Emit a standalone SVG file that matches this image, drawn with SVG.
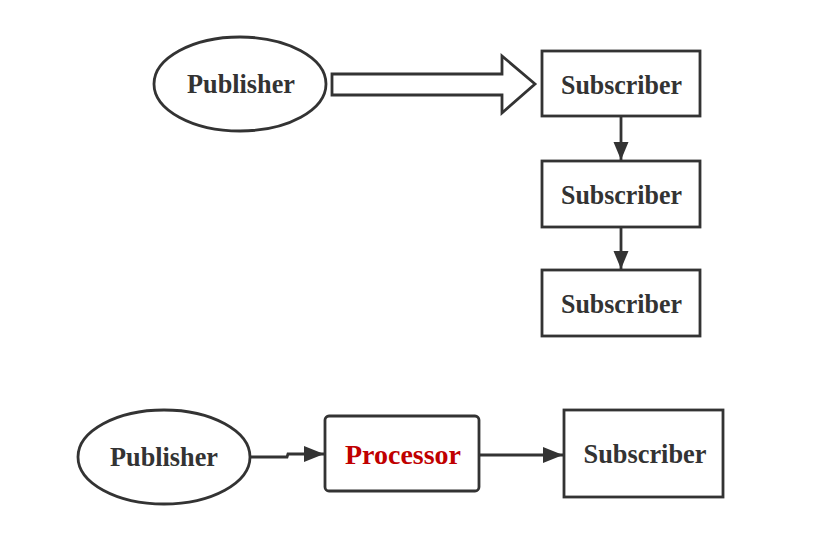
<svg xmlns="http://www.w3.org/2000/svg" width="823" height="545" viewBox="0 0 823 545">
<defs>
<style>
.shape{fill:#fff;stroke:#333;stroke-width:2.8}
.lbl{font-family:"Liberation Serif","Times New Roman",serif;font-weight:bold;font-size:28px;fill:#333;text-anchor:middle}
.red{fill:#c00000}
.conn{fill:none;stroke:#333;stroke-width:2.8}
</style>
<marker id="ah" markerUnits="userSpaceOnUse" markerWidth="24" markerHeight="18" refX="20" refY="8" orient="auto">
<path d="M0,0 L20,8 L0,16 Z" fill="#333"/>
</marker>
<marker id="ahv" markerUnits="userSpaceOnUse" markerWidth="20" markerHeight="16" refX="18" refY="7.5" orient="auto">
<path d="M0,0 L18,7.5 L0,15 Z" fill="#333"/>
</marker>
</defs>
<rect width="823" height="545" fill="#fff"/>
<g id="connectors">
<path class="shape" d="M332,74 L502,74 L502,56 L535,84 L502,113 L502,95 L332,95 Z"/>
<path class="conn" d="M621,116 L621,160" marker-end="url(#ahv)"/>
<path class="conn" d="M621,227 L621,269" marker-end="url(#ahv)"/>
<path class="conn" d="M250,457 L287,457 L288,454 L324,454" marker-end="url(#ah)"/>
<path class="conn" d="M479,455 L563,455" marker-end="url(#ah)"/>
</g>
<g id="publisher1">
<ellipse class="shape" cx="240" cy="84" rx="86" ry="47"/>
<text class="lbl" x="241" y="93" textLength="108" lengthAdjust="spacingAndGlyphs">Publisher</text>
</g>
<g id="subscriber1">
<rect class="shape" x="542" y="51" width="158" height="65"/>
<text class="lbl" x="621.5" y="94" textLength="121" lengthAdjust="spacingAndGlyphs">Subscriber</text>
</g>
<g id="subscriber2">
<rect class="shape" x="542" y="161" width="158" height="66"/>
<text class="lbl" x="621.5" y="204" textLength="121" lengthAdjust="spacingAndGlyphs">Subscriber</text>
</g>
<g id="subscriber3">
<rect class="shape" x="542" y="270" width="158" height="66"/>
<text class="lbl" x="621.5" y="313" textLength="121" lengthAdjust="spacingAndGlyphs">Subscriber</text>
</g>
<g id="publisher2">
<ellipse class="shape" cx="164" cy="457" rx="86" ry="47"/>
<text class="lbl" x="164" y="466" textLength="108" lengthAdjust="spacingAndGlyphs">Publisher</text>
</g>
<g id="processor">
<rect class="shape" x="325" y="416" width="154" height="75" rx="4"/>
<text class="lbl red" x="403" y="464" textLength="116" lengthAdjust="spacingAndGlyphs">Processor</text>
</g>
<g id="subscriber4">
<rect class="shape" x="564" y="410" width="159" height="87"/>
<text class="lbl" x="645" y="463" textLength="123" lengthAdjust="spacingAndGlyphs">Subscriber</text>
</g>
</svg>
